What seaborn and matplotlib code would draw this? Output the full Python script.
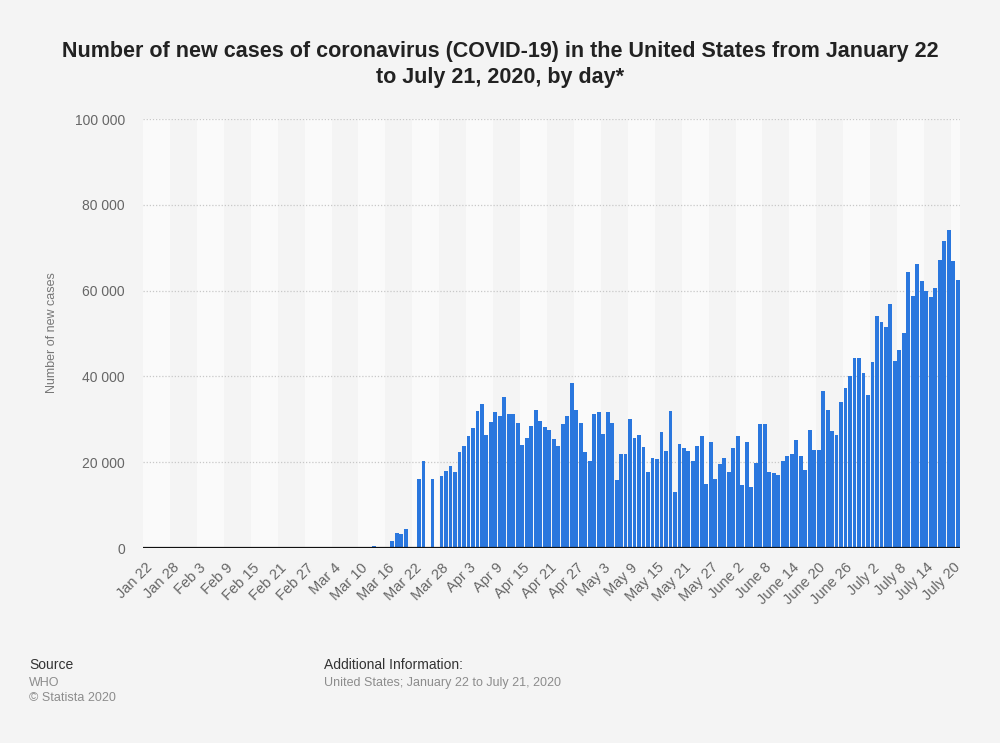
import pandas as pd
import seaborn as sns
import matplotlib
matplotlib.use("Agg")
import matplotlib.pyplot as plt
from matplotlib.ticker import FuncFormatter

# daily new cases, one list per month
jan_cases = [1, 0, 1, 0, 2, 0, 0, 0, 0, 1]  # Jan 22 - 31
feb_cases = [1, 1, 0, 0, 0, 0, 0, 0, 0, 1, 0, 1, 0, 0, 0,
             0, 0, 0, 0, 0, 0, 20, 0, 0, 0, 0, 0, 0, 0]
mar_cases = [0, 0, 8, 23, 0, 41, 0, 60, 210, 150, 0, 350, 430, 280, 0, 0,
             1600, 3400, 3200, 4400, 0, 0, 16200, 20200, 0, 16200, 0,
             16700, 18000, 19200, 17700]
apr_cases = [22300, 23900, 26100, 27900, 31900, 33500, 26300, 29400, 31600, 30700,
             35300, 31300, 31300, 29100, 24100, 25700, 28500, 32200, 29700, 28200,
             27500, 25400, 23800, 28800, 30700, 38400, 32200, 29100, 22300, 20200]
may_cases = [31300, 31600, 26600, 31600, 29100, 15800, 22000, 22000, 30000, 25700,
             26300, 23500, 17700, 21100, 20800, 27000, 22600, 31900, 13000, 24200,
             23300, 22600, 20200, 23900, 26100, 14900, 24800, 16100, 19500, 21100,
             17700]
jun_cases = [23300, 26100, 14600, 24800, 14200, 19800, 28900, 28900, 17700, 17400,
             17000, 20200, 21400, 22000, 25100, 21400, 18300, 27600, 22900, 22900,
             36500, 32200, 27200, 26300, 34000, 37400, 40200, 44200, 44200, 40900]
jul_cases = [35600, 43300, 54100, 52800, 51600, 56900, 43600, 46100, 50100, 64300,
             58700, 66200, 62200, 60000, 58400, 60600, 67100, 71500, 74200, 66800,
             62500]

tick_labels = ["Jan 22", "Jan 28", "Feb 3", "Feb 9", "Feb 15", "Feb 21", "Feb 27",
               "Mar 4", "Mar 10", "Mar 16", "Mar 22", "Mar 28", "Apr 3", "Apr 9",
               "Apr 15", "Apr 21", "Apr 27", "May 3", "May 9", "May 15", "May 21",
               "May 27", "June 2", "June 8", "June 14", "June 20", "June 26",
               "July 2", "July 8", "July 14", "July 20"]

days = pd.date_range("2020-01-22", "2020-07-21", freq="D")
cases = jan_cases + feb_cases + mar_cases + apr_cases + may_cases + jun_cases + jul_cases
df = pd.DataFrame({"day": days.strftime("%Y-%m-%d"), "cases": cases})

sns.set_style("white")
plt.rcParams["font.family"] = ["Liberation Sans", "DejaVu Sans"]

bg = "#f4f4f4"
fig = plt.figure(figsize=(10, 7.43), dpi=100, facecolor=bg)
ax = fig.add_axes([0.143, 0.2624, 0.817, 0.5774])
ax.set_facecolor(bg)

# alternating light bands, one per 6-day tick interval
for k, start in enumerate(range(0, len(df), 6)):
    if k % 2 == 0:
        ax.axvspan(start - 0.5, min(start + 5.5, len(df) - 0.5), color="#fafafa", lw=0, zorder=0)

sns.barplot(data=df, x="day", y="cases", color="#2a77de", saturation=1,
            width=0.86, linewidth=0, ax=ax, zorder=3)

ax.set_xlim(-0.5, len(df) - 0.5)
ax.set_ylim(0, 100000)
ax.set_yticks(range(0, 100001, 20000))
ax.yaxis.set_major_formatter(FuncFormatter(lambda v, p: f"{int(v):,}".replace(",", " ")))
for v in range(20000, 100001, 20000):
    ax.axhline(v, color="#c8c8c8", lw=0.9, ls=(0, (1, 1.5)), zorder=1)
ax.axhline(0, color="#111111", lw=1.6, zorder=4)

ax.set_xticks(range(0, len(df), 6))
ax.set_xticklabels(tick_labels, rotation=45, ha="right", rotation_mode="anchor")
ax.tick_params(axis="x", length=0, pad=9, labelsize=10.5, labelcolor="#666666")
ax.tick_params(axis="y", length=0, pad=13, labelsize=10, labelcolor="#666666")
ax.set_xlabel("")
ax.set_ylabel("")
sns.despine(ax=ax, left=True, bottom=True)

fig.text(0.052, 0.552, "Number of new cases", rotation=90, ha="center", va="center",
         fontsize=9, color="#777777")

fig.text(0.5, 0.913, "Number of new cases of coronavirus (COVID-19) in the United States from January 22\n"
         "to July 21, 2020, by day*", ha="center", va="center", multialignment="center",
         fontsize=15.5, fontweight="bold", color="#222222", linespacing=1.3)

fig.text(0.029, 0.105, "Source", fontsize=10, color="#333333", va="center")
fig.text(0.029, 0.081, "WHO", fontsize=9, color="#8c8c8c", va="center")
fig.text(0.029, 0.0606, "\u00a9 Statista 2020", fontsize=9, color="#8c8c8c", va="center")
fig.text(0.324, 0.105, "Additional Information:", fontsize=10, color="#333333", va="center")
fig.text(0.324, 0.081, "United States; January 22 to July 21, 2020", fontsize=9,
         color="#8c8c8c", va="center")

fig.savefig("out.png", dpi=100, facecolor=bg)
